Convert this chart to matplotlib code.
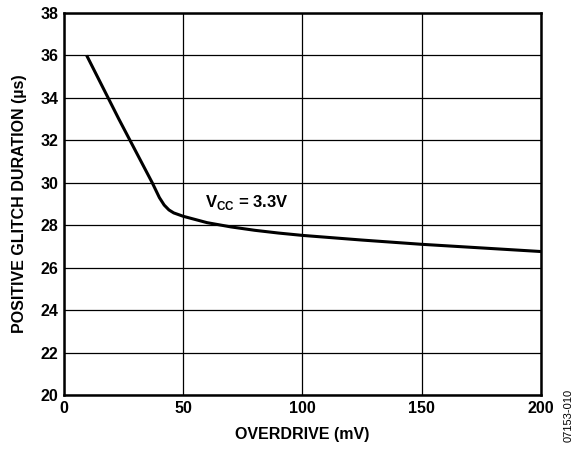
import numpy as np
import matplotlib.pyplot as plt

plt.rcParams['font.family'] = ['Liberation Sans', 'DejaVu Sans']
plt.rcParams['font.weight'] = 'bold'
plt.rcParams['mathtext.fontset'] = 'custom'
plt.rcParams['mathtext.bf'] = 'Liberation Sans:bold'
plt.rcParams['mathtext.rm'] = 'Liberation Sans:bold'

# --- data ---
overdrive_mv = [9.5, 23, 37, 40, 42, 44, 46, 50, 60, 70, 80, 90, 100,
                125, 150, 175, 200]
glitch_us = [36.0, 33.0, 30.0, 29.3, 28.95, 28.72, 28.58, 28.42, 28.12,
             27.92, 27.76, 27.63, 27.52, 27.3, 27.1, 26.93, 26.76]
x_ticks = [0, 50, 100, 150, 200]
y_ticks = [20, 22, 24, 26, 28, 30, 32, 34, 36, 38]

fig = plt.figure(figsize=(5.74, 4.5), dpi=100)
ax = fig.add_axes([0.1115, 0.1222, 0.831, 0.849])

ax.plot(overdrive_mv, glitch_us, color='black', lw=2.2, solid_capstyle='butt',
        solid_joinstyle='round')

ax.set_xlim(0, 200)
ax.set_ylim(20, 38)
ax.set_xticks(x_ticks)
ax.set_yticks(y_ticks)
ax.grid(True, color='black', lw=0.9)
ax.tick_params(length=0, labelsize=11.5, pad=4)
for lab in ax.get_xticklabels() + ax.get_yticklabels():
    lab.set_fontweight('bold')
for sp in ax.spines.values():
    sp.set_linewidth(1.8)

ax.set_xlabel('OVERDRIVE (mV)', fontsize=11.5, fontweight='bold', labelpad=8)
ax.set_ylabel('POSITIVE GLITCH DURATION (µs)', fontsize=11.5, fontweight='bold',
              labelpad=10)

ax.text(59.1, 28.88, r'V$_{\mathrm{CC}}$ = 3.3V', fontsize=12, fontweight='bold',
        va='baseline')
fig.text(0.991, 0.076, '07153-010', rotation=90, fontsize=8, fontweight='normal',
         ha='center', va='center')

fig.savefig('out.png', dpi=100)
